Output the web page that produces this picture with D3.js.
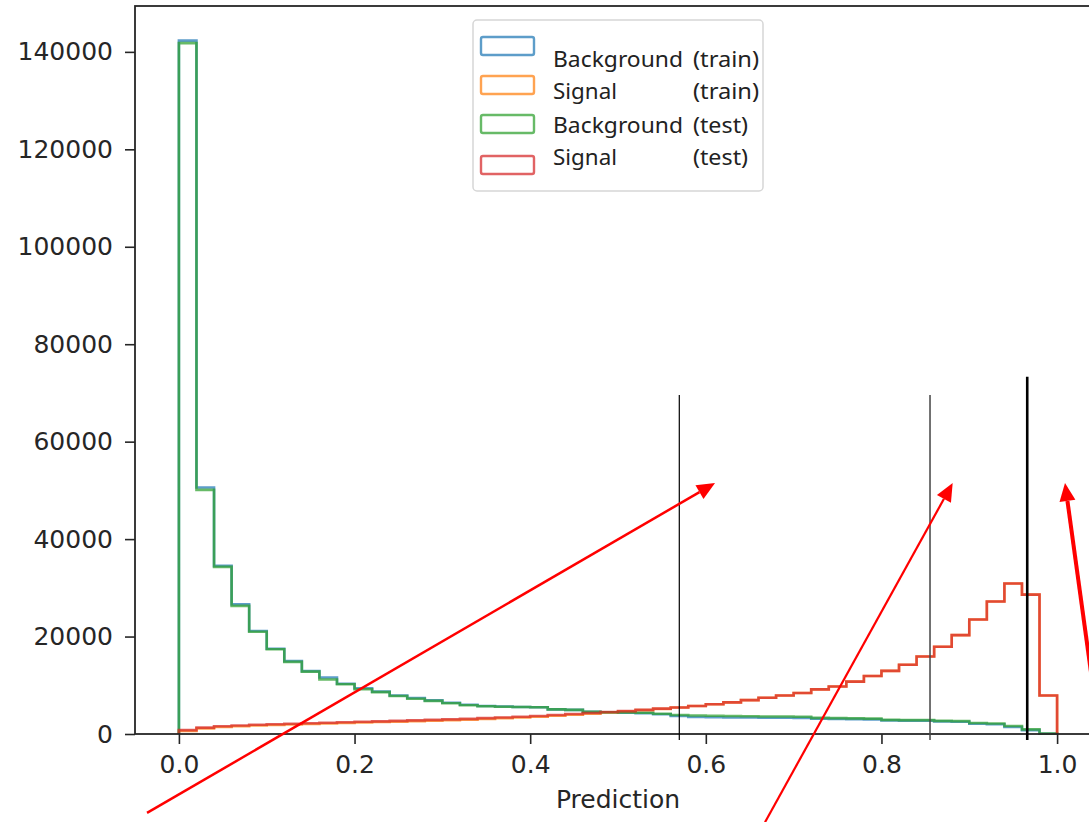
<!DOCTYPE html>
<html lang="en">
<head>
<meta charset="UTF-8">
<title>prediction histogram</title>
<script src="https://d3js.org/d3.v7.min.js"></script>
<style>
    body { margin: 0; background: #fff; }
    .tick text { font-family: "DejaVu Sans", sans-serif; font-size: 25px; fill: #262626; }
    .tick line { stroke: #262626; stroke-width: 1.6; }
    .domain { display: none; }
    .legend text { font-family: "Noto Sans", "Open Sans", sans-serif; font-size: 22px; fill: #222; }
</style>
</head>
<body>
<svg id="chart" width="1089" height="822"></svg>
<script>
    // 50 bins of width 0.02 on [0, 1]
    const binEdges = d3.range(0, 51).map(i => i / 50);

    const bgTrain = [142300, 50600, 34500, 26600, 21150, 17500, 14950, 12900, 11600, 10300,
        9400, 8700, 7900, 7400, 6900, 6400, 6000, 5750, 5650, 5550,
        5500, 5050, 4950, 4550, 4450, 4350, 4250, 4050, 3700, 3500,
        3450, 3400, 3400, 3350, 3350, 3300, 3150, 3100, 3050, 3000,
        2800, 2750, 2750, 2600, 2500, 2100, 2000, 1450, 800, 60];
    const sigTrain = [650, 1150, 1450, 1600, 1750, 1850, 1950, 2050, 2150, 2250,
        2350, 2450, 2550, 2650, 2750, 2850, 2950, 3100, 3250, 3400,
        3550, 3750, 3950, 4150, 4400, 4650, 4900, 5150, 5450, 5750,
        6100, 6500, 6950, 7450, 7900, 8400, 9150, 9750, 10750, 11900,
        12950, 14200, 15900, 17900, 20300, 23500, 27200, 30900, 28600, 7900];
    const bgTest = [141800, 50100, 34300, 26300, 21000, 17400, 14800, 12800, 11200, 10200,
        9200, 8600, 7800, 7250, 6800, 6300, 5900, 5700, 5600, 5550,
        5500, 5050, 4950, 4550, 4450, 4400, 4350, 4150, 3900, 3800,
        3750, 3700, 3650, 3600, 3600, 3550, 3300, 3250, 3200, 3150,
        2900, 2850, 2850, 2700, 2650, 2250, 2150, 1650, 950, 80];
    const sigTest = [800, 1300, 1600, 1750, 1900, 2000, 2100, 2200, 2300, 2400,
        2500, 2600, 2700, 2800, 2900, 3000, 3100, 3250, 3400, 3550,
        3700, 3900, 4100, 4300, 4500, 4700, 4950, 5200, 5450, 5750,
        6100, 6500, 6950, 7450, 7900, 8400, 9150, 9750, 10750, 11900,
        12950, 14200, 15900, 17900, 20300, 23500, 27200, 30900, 28600, 7900];

    const seriesNames = ["Background", "Signal", "Background", "Signal"];
    const seriesTags = ["(train)", "(train)", "(test)", "(test)"];
    const seriesColors = ["#1f77b4", "#ff7f0e", "#2ca02c", "#d62728"];
    const seriesData = [bgTrain, sigTrain, bgTest, sigTest];

    const xTicks = [0, 0.2, 0.4, 0.6, 0.8, 1.0];
    const yTicks = [0, 20000, 40000, 60000, 80000, 100000, 120000, 140000];

    // hand drawn overlays (cut values and arrows), in data units
    const cutLines = [
        {x: 0.5698, top: 69600, w: 1.2, c: "#000"},
        {x: 0.8553, top: 69600, w: 1.5, c: "#444"},
        {x: 0.9660, top: 73300, w: 2.6, c: "#000"}
    ];
    const arrows = [
        {x1: -0.0363, y1: -16200, x2: 0.6105, y2: 51500, w: 2.5},
        {x1: 0.6674, y1: -18100, x2: 0.8811, y2: 51500, w: 2.2},
        {x1: 1.0398, y1: 11100, x2: 1.0090, y2: 51500, w: 4}
    ];

    const svg = d3.select("#chart");
    const mLeft = 135, mRight = 1101, mTop = 6, mBottom = 734;

    const yMax = d3.max(bgTrain) * 1.05;
    const x = d3.scaleLinear().domain([-0.05, 1.05]).range([mLeft, mRight]);
    const y = d3.scaleLinear().domain([0, yMax]).range([mBottom, mTop]);

    // histogram outlines
    function stepPoints(vals) {
        let pts = [[binEdges[0], 0]];
        vals.forEach((v, i) => {
            pts.push([binEdges[i], v]);
            pts.push([binEdges[i + 1], v]);
        });
        pts.push([binEdges[binEdges.length - 1], 0]);
        return pts;
    }
    const line = d3.line().x(d => x(d[0])).y(d => y(d[1]));

    seriesData.forEach((vals, i) => {
        svg.append("path")
            .attr("d", line(stepPoints(vals)))
            .attr("fill", "none")
            .attr("stroke", seriesColors[i])
            .attr("stroke-opacity", 0.72)
            .attr("stroke-width", 2.6);
    });

    // axes
    svg.append("g")
        .attr("transform", `translate(${mLeft},0)`)
        .call(d3.axisLeft(y).tickValues(yTicks).tickFormat(d3.format("d")).tickSize(10).tickPadding(12));
    svg.append("g")
        .attr("transform", `translate(0,${mBottom})`)
        .call(d3.axisBottom(x).tickValues(xTicks).tickFormat(d3.format(".1f")).tickSize(10).tickPadding(11));

    // spines
    svg.append("rect")
        .attr("x", mLeft).attr("y", mTop)
        .attr("width", mRight - mLeft).attr("height", mBottom - mTop)
        .attr("fill", "none").attr("stroke", "#262626").attr("stroke-width", 1.8);

    svg.append("text")
        .attr("x", x(0.5)).attr("y", 808)
        .attr("text-anchor", "middle")
        .style("font-family", "DejaVu Sans, sans-serif")
        .style("font-size", "25px")
        .attr("fill", "#262626")
        .text("Prediction");

    // legend
    const lg = svg.append("g").attr("class", "legend");
    lg.append("rect")
        .attr("x", 473).attr("y", 20).attr("width", 290).attr("height", 171)
        .attr("rx", 4).attr("fill", "#fff").attr("fill-opacity", 0.85)
        .attr("stroke", "#d6d6d6").attr("stroke-width", 1.5);
    const patchY = [37, 76, 115, 156];
    const textY = [67, 99, 133, 165];
    seriesNames.forEach((name, i) => {
        lg.append("rect")
            .attr("x", 481).attr("y", patchY[i]).attr("width", 53).attr("height", 18)
            .attr("rx", 2).attr("fill", "none")
            .attr("stroke", seriesColors[i]).attr("stroke-opacity", 0.72).attr("stroke-width", 2.4);
        lg.append("text").attr("x", 553).attr("y", textY[i])
            .attr("textLength", name === "Signal" ? 64 : 130)
            .attr("lengthAdjust", "spacingAndGlyphs")
            .text(name);
        lg.append("text").attr("x", 693).attr("y", textY[i])
            .attr("textLength", seriesTags[i] === "(train)" ? 66 : 55)
            .attr("lengthAdjust", "spacingAndGlyphs")
            .text(seriesTags[i]);
    });

    // overlays
    cutLines.forEach(c => {
        svg.append("line")
            .attr("x1", x(c.x)).attr("x2", x(c.x))
            .attr("y1", y(c.top)).attr("y2", y(-1230))
            .attr("stroke", c.c).attr("stroke-width", c.w);
    });

    arrows.forEach(a => {
        const x1 = x(a.x1), y1 = y(a.y1), x2 = x(a.x2), y2 = y(a.y2);
        const ang = Math.atan2(y2 - y1, x2 - x1);
        const hl = 18, hw = 8;
        const bx = x2 - hl * Math.cos(ang), by = y2 - hl * Math.sin(ang);
        svg.append("line")
            .attr("x1", x1).attr("y1", y1).attr("x2", bx).attr("y2", by)
            .attr("stroke", "#ff0000").attr("stroke-width", a.w);
        const p1 = [bx + hw * Math.sin(ang), by - hw * Math.cos(ang)];
        const p2 = [bx - hw * Math.sin(ang), by + hw * Math.cos(ang)];
        svg.append("path")
            .attr("d", `M${x2},${y2}L${p1[0]},${p1[1]}L${p2[0]},${p2[1]}Z`)
            .attr("fill", "#ff0000");
    });
</script>
</body>
</html>
